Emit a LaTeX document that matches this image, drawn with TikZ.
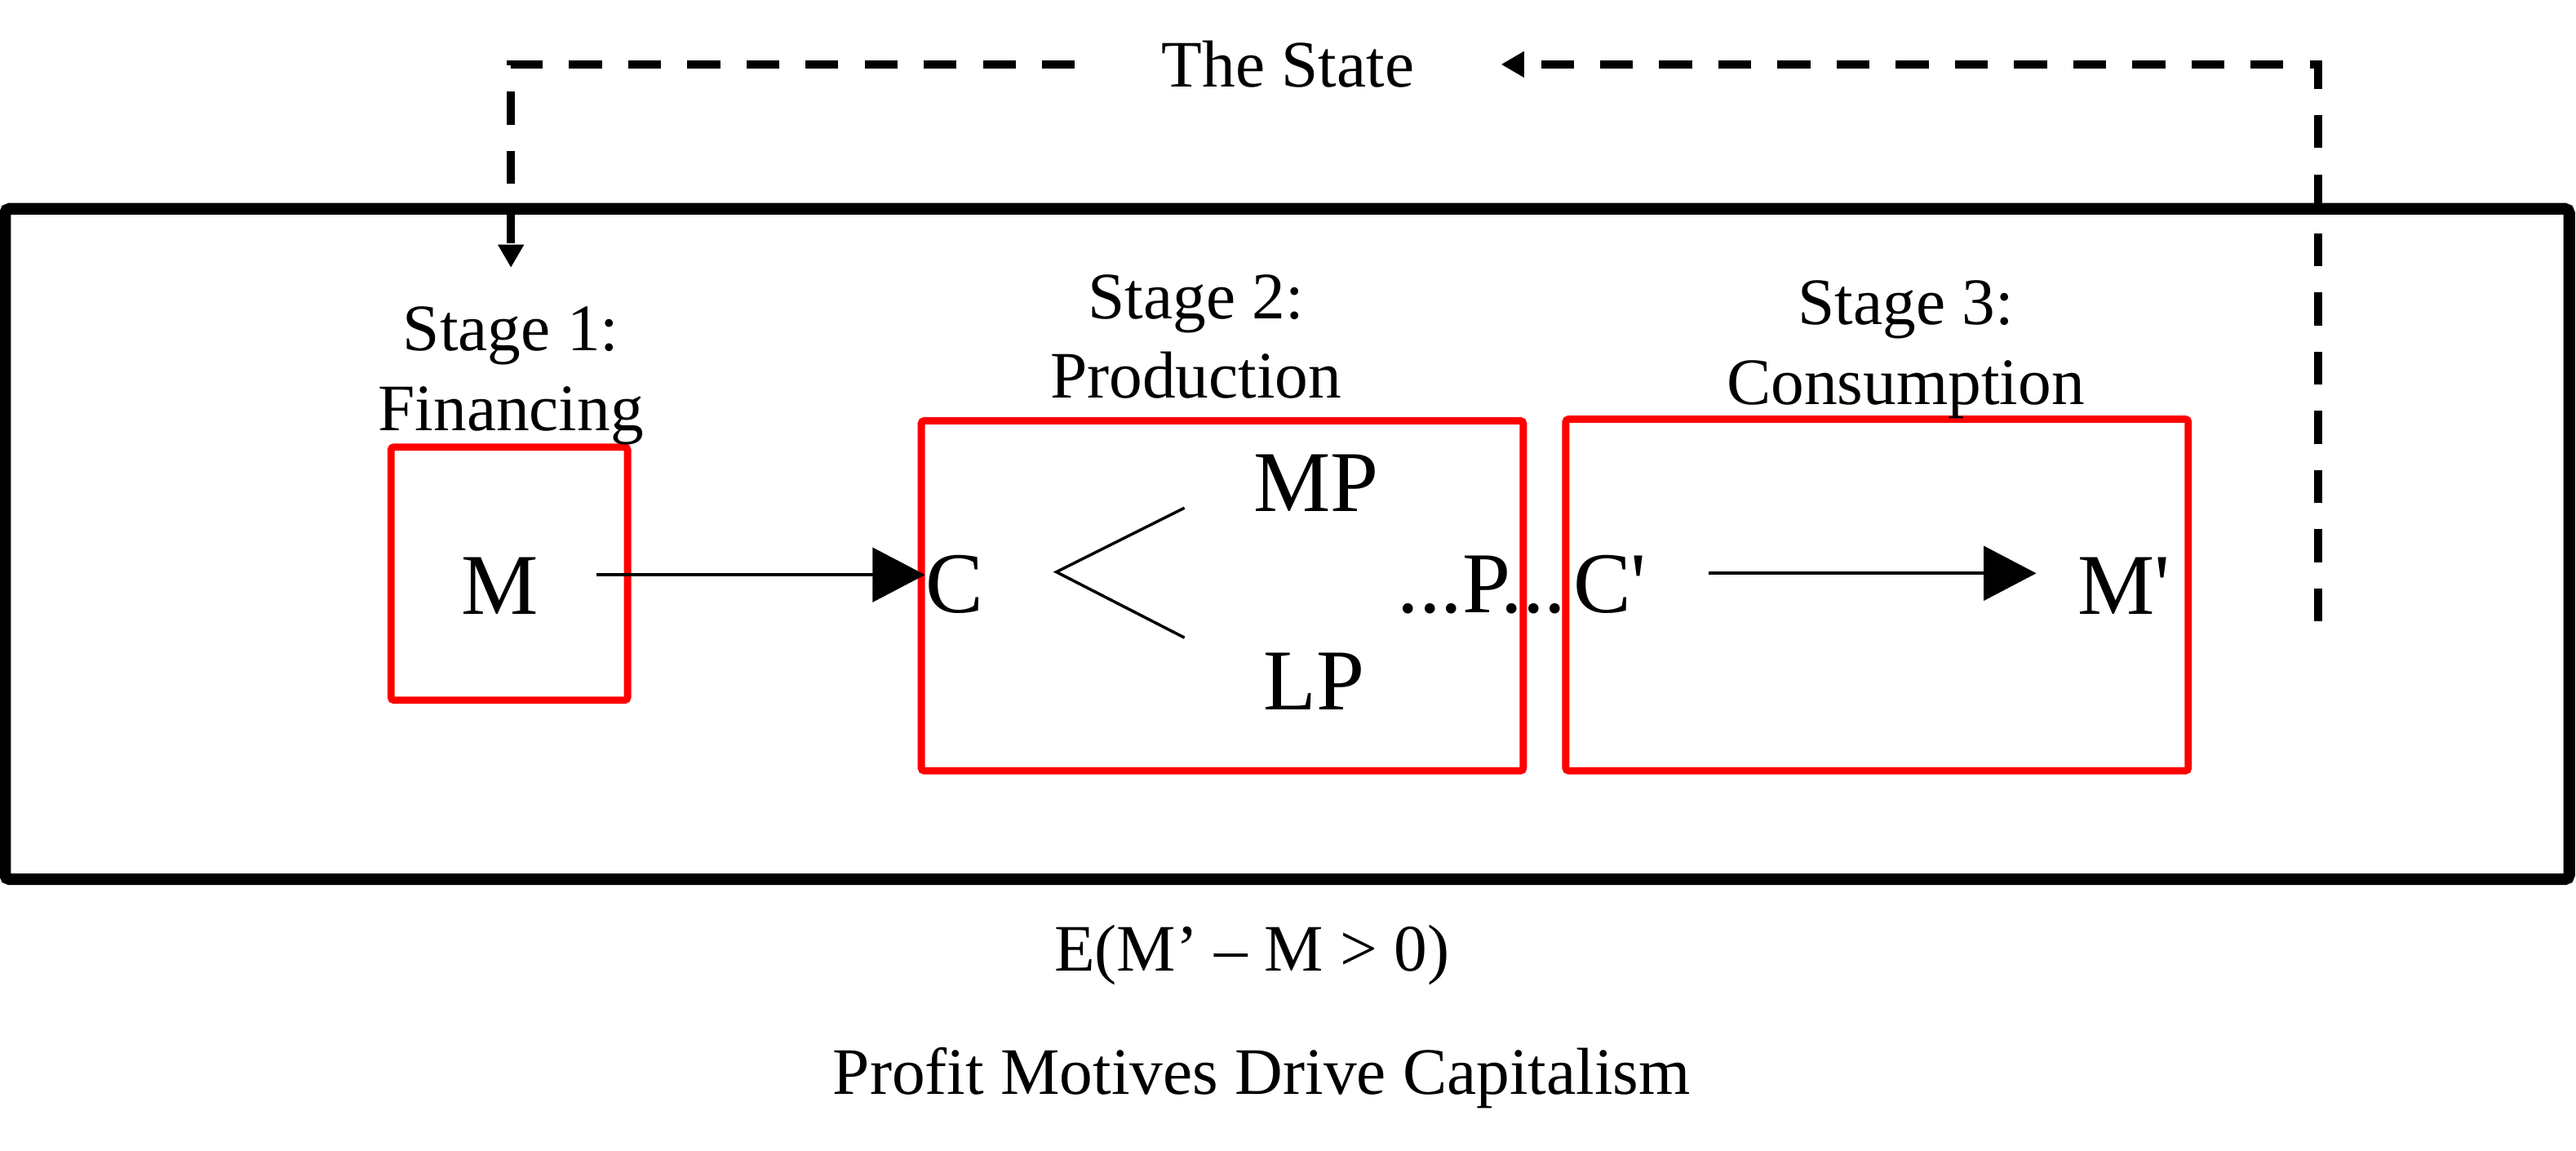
\documentclass[tikz,border=0pt]{standalone}
\usepackage{fontspec}
\setmainfont{Liberation Serif}
\usetikzlibrary{arrows.meta, positioning}

\begin{document}
\begin{tikzpicture}[x=0.02cm, y=-0.02cm,
    frame/.style={draw, line width=4pt, rounded corners=1.5pt, minimum width=31.22cm, minimum height=8.16cm, inner sep=0},
    stage/.style={draw=red, line width=2.5pt, rounded corners=1pt, inner sep=0},
    stagetext/.style={font=\fontsize{23}{27.6}\selectfont, align=center, inner sep=0},
    term/.style={font=\fontsize{30}{36}\selectfont, inner sep=0},
    flow/.style={-{Triangle[length=0.64cm, width=0.66cm]}, line width=1.1pt},
    policy/.style={line width=2.8pt, dash pattern=on 0.4cm off 0.32cm, -{Triangle[length=0.28cm, width=0.3cm]}}]

    \useasboundingbox (0,0) rectangle (1568,700.3);

    % the economy and the three stages
    \node[frame] (economy) at (783.5,331) {};
    \node[stage, minimum width=2.88cm, minimum height=3.08cm] (b_1) at (310,349) {};
    \node[stage, minimum width=7.33cm, minimum height=4.26cm] (b_2) at (744,362.5) {};
    \node[stage, minimum width=7.58cm, minimum height=4.28cm] (b_3) at (1142.5,362) {};

    \node[stagetext, anchor=south] (l_1) at (311,271) {Stage 1:\\Financing};
    \node[stagetext, anchor=south] (l_2) at (728,243) {Stage 2:\\Production};
    \node[stagetext, anchor=south] (l_3) at (1160,255) {Stage 3:\\Consumption};

    % circuit of capital
    \node[term, anchor=base] (m)   at (304.5,373.5) {M};
    \node[term, anchor=base] (c)   at (581,372.5)   {C};
    \node[term, anchor=base] (mp)  at (801,311)     {MP};
    \node[term, anchor=base] (lp)  at (800,432)     {LP};
    \node[term, anchor=base] (p)   at (902,372.5)   {...P...};
    \node[term, anchor=base] (c_2) at (980,372.5)   {C\textquotesingle};
    \node[term, anchor=base] (m_2) at (1293,373.5)  {M\textquotesingle};

    \draw[flow, shorten <=0.7cm] ([yshift=0.13cm]m.east) -- ([yshift=0.13cm]m.east -| c.west);
    \draw[flow, shorten <=0.75cm, shorten >=0.5cm] ([yshift=0.13cm]c_2.east) -- ([yshift=0.13cm]c_2.east -| m_2.west);

    \coordinate (f_1) at (721,309);
    \coordinate (fork) at (643,348);
    \coordinate (f_2) at (721,388);
    \draw[line width=1pt] (f_1) -- (fork) -- (f_2);

    % the state
    \node[stagetext, inner xsep=1.05cm, anchor=base] (state) at (784,53) {The State};
    \coordinate (tax) at (1411,378);
    \draw[policy] (tax) |- (state.east);
    \draw[policy, shorten >=0.47cm] (state.west) -| (l_1.north);

    \node[stagetext, anchor=base] (rule) at (762,590.7) {E(M’ – M > 0)};
    \node[stagetext, anchor=base] (motive) at (768,665.6) {Profit Motives Drive Capitalism};
\end{tikzpicture}
\end{document}
